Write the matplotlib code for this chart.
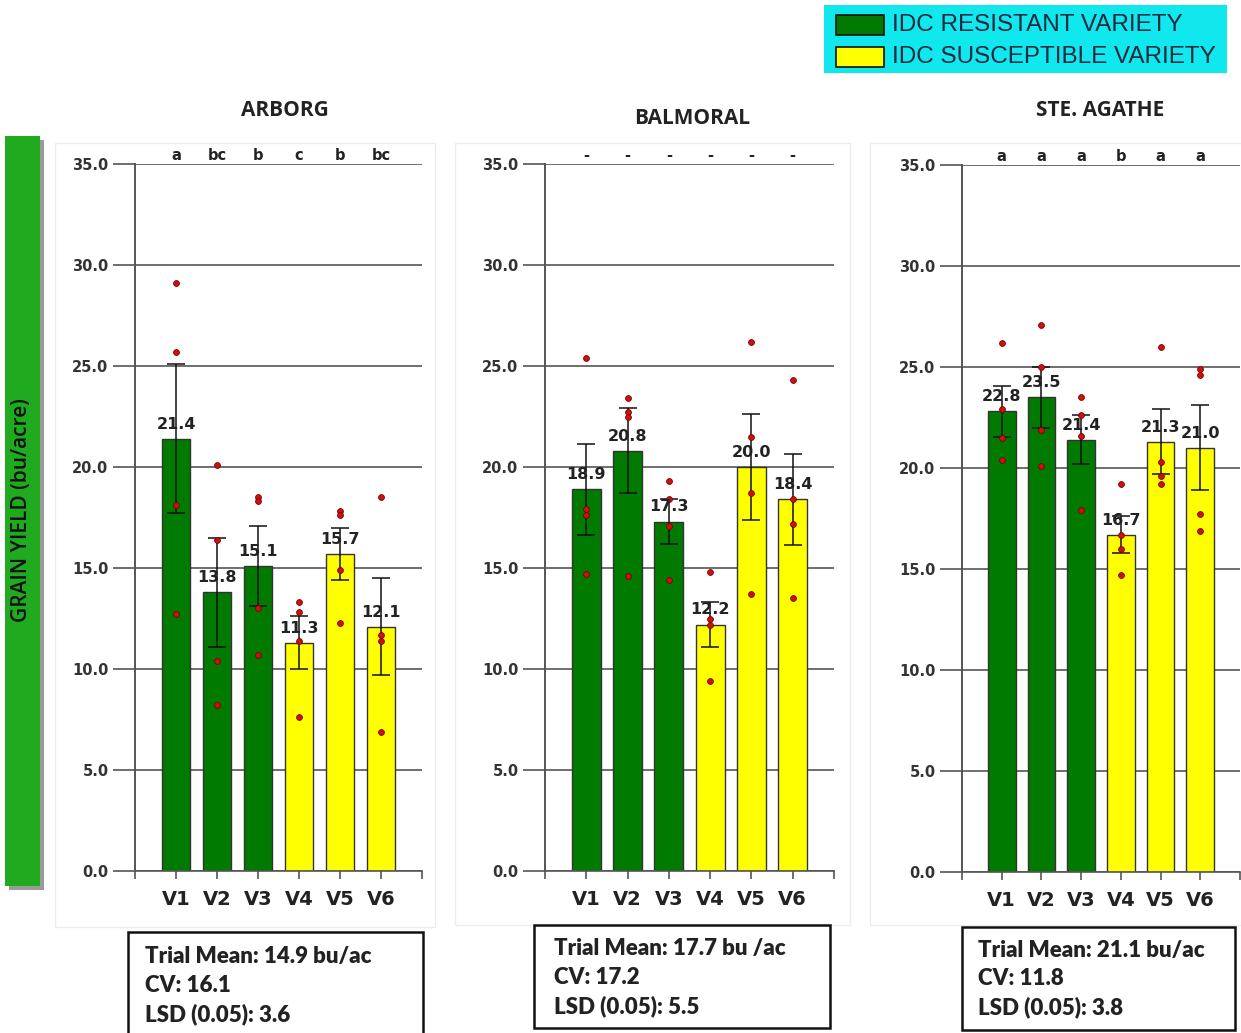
import numpy as np
import matplotlib
matplotlib.use("Agg")
import matplotlib.pyplot as plt
from matplotlib.patches import Rectangle

plt.rcParams["font.family"] = ["DejaVu Sans"]

W, H = 1241, 1033

# data
varieties = ["V1", "V2", "V3", "V4", "V5", "V6"]
resistant = [True, True, True, False, False, False]

arborg_mean = [21.4, 13.8, 15.1, 11.3, 15.7, 12.1]
arborg_err = [3.7, 2.7, 2.0, 1.3, 1.3, 2.4]
arborg_reps = [[29.1, 25.7, 18.1, 12.7], [20.1, 16.4, 10.4, 8.2],
               [18.5, 18.3, 13.0, 10.7], [13.3, 12.8, 11.4, 7.6],
               [17.8, 17.6, 14.9, 12.3], [18.5, 11.7, 11.4, 6.9]]
arborg_letters = ["a", "bc", "b", "c", "b", "bc"]

balmoral_mean = [18.9, 20.8, 17.3, 12.2, 20.0, 18.4]
balmoral_err = [2.25, 2.1, 1.1, 1.1, 2.6, 2.25]
balmoral_reps = [[25.4, 17.9, 17.6, 14.7], [23.4, 22.7, 22.5, 14.6],
                 [19.3, 18.4, 17.1, 14.4], [14.8, 12.5, 12.2, 9.4],
                 [26.2, 21.5, 18.7, 13.7], [24.3, 18.4, 17.2, 13.5]]
balmoral_letters = ["-", "-", "-", "-", "-", "-"]

agathe_mean = [22.8, 23.5, 21.4, 16.7, 21.3, 21.0]
agathe_err = [1.25, 1.5, 1.2, 0.9, 1.6, 2.1]
agathe_reps = [[26.2, 22.9, 21.5, 20.4], [27.1, 25.0, 21.9, 20.1],
               [23.5, 22.6, 21.6, 17.9], [19.2, 16.7, 16.0, 14.7],
               [26.0, 20.3, 19.6, 19.2], [24.9, 24.6, 17.7, 16.9]]
agathe_letters = ["a", "a", "a", "b", "a", "a"]

arborg_stats = ["Trial Mean: 14.9 bu/ac", "CV: 16.1", "LSD (0.05): 3.6"]
balmoral_stats = ["Trial Mean: 17.7 bu /ac", "CV: 17.2", "LSD (0.05): 5.5"]
agathe_stats = ["Trial Mean: 21.1 bu/ac", "CV: 11.8", "LSD (0.05): 3.8"]

GREEN = "#007a00"
YELLOW = "#ffff00"


def fx(x):
    return x / W


def fy(y):
    return 1 - y / H


def rect_px(x0, y0, x1, y1, **kw):
    # rectangle given in pixel coords (top-left origin)
    return Rectangle((fx(x0), fy(y1)), fx(x1) - fx(x0), fy(y0) - fy(y1),
                     transform=fig.transFigure, **kw)


fig = plt.figure(figsize=(W / 100, H / 100), dpi=100)


def draw_panel(box, frame, title, title_xy, means, errs, reps, letters, stats, stats_box, stats_xy):
    # faint panel frame
    fig.patches.append(rect_px(*frame, facecolor="none", edgecolor="#ececec", lw=1.0, zorder=0))
    x0, y0, x1, y1 = box
    ax = fig.add_axes([fx(x0), fy(y1), fx(x1) - fx(x0), fy(y0) - fy(y1)])
    x = np.arange(1, len(varieties) + 1)
    colors = [GREEN if r else YELLOW for r in resistant]
    ax.bar(x, means, width=0.7, color=colors, edgecolor="#333333", lw=1.0, zorder=2)
    ax.errorbar(x, means, yerr=errs, fmt="none", ecolor="#111111", elinewidth=1.1,
                capsize=6.5, capthick=1.1, zorder=3)
    for xi, r in zip(x, reps):
        ax.plot([xi] * len(r), r, "o", ms=4.2, mfc="#cc1111", mec="#7a0000", mew=0.6,
                zorder=4, clip_on=False)
    for xi, m in zip(x, means):
        ax.text(xi, m + 0.35, f"{m:.1f}", ha="center", va="bottom", fontsize=11.5,
                fontweight="bold", color="#222222", zorder=5)
    for xi, lt in zip(x, letters):
        ax.text(xi, 35.05, lt, ha="center", va="bottom", fontsize=10.5,
                fontweight="bold", color="#222222")
    ax.set_xlim(0, 7)
    ax.set_ylim(0, 35)
    ax.set_yticks(np.arange(0, 35.1, 5))
    ax.set_yticklabels([f"{v:.1f}" for v in np.arange(0, 35.1, 5)])
    ax.set_xticks(np.arange(0, 8))
    ax.set_xticklabels([""] + varieties + [""])
    ax.yaxis.grid(True, color="#555555", lw=1.2, zorder=1)
    ax.set_axisbelow(True)
    ax.tick_params(axis="y", length=16, width=1.2, color="#555555", pad=3,
                   labelsize=10.5, labelcolor="#333333")
    ax.tick_params(axis="x", length=6, width=1.2, color="#555555", pad=8,
                   labelsize=14, labelcolor="#222222")
    for lab in ax.get_xticklabels() + ax.get_yticklabels():
        lab.set_fontweight("bold")
    for s in ["top", "right"]:
        ax.spines[s].set_visible(False)
    ax.spines["left"].set_color("#555555")
    ax.spines["left"].set_linewidth(1.4)
    ax.spines["bottom"].set_color("#555555")
    ax.spines["bottom"].set_linewidth(1.2)

    fig.text(fx(title_xy[0]), fy(title_xy[1]), title, ha="center", va="center",
             fontsize=15, fontweight="bold", family="Open Sans", color="#222222")

    fig.patches.append(rect_px(*stats_box, facecolor="white", edgecolor="#111111", lw=1.8, zorder=1))
    sx, sy = stats_xy
    for i, line in enumerate(stats):
        fig.text(fx(sx), fy(sy + i * 28.5), line, ha="left", va="center", fontsize=16,
                 fontweight="heavy", family="Lato", color="#222222")
    return ax


draw_panel((135, 164, 422, 871), (55, 143, 435, 927), "ARBORG", (285, 110),
           arborg_mean, arborg_err, arborg_reps, arborg_letters,
           arborg_stats, (128, 932, 423, 1040), (145, 957))
draw_panel((545, 164, 834, 871), (455, 143, 850, 925), "BALMORAL", (692, 119),
           balmoral_mean, balmoral_err, balmoral_reps, balmoral_letters,
           balmoral_stats, (534, 925, 830, 1028), (554, 949))
draw_panel((962, 165, 1240, 872), (870, 143, 1245, 925), "STE. AGATHE", (1100, 110),
           agathe_mean, agathe_err, agathe_reps, agathe_letters,
           agathe_stats, (962, 927, 1235, 1030), (978, 950))

# left axis label band
fig.patches.append(rect_px(9, 140, 44, 890, facecolor="#9a9a9a", edgecolor="none", zorder=0))
fig.patches.append(rect_px(5, 136, 40, 886, facecolor="#1faa1f", edgecolor="none", zorder=1))
fig.text(fx(22), fy(510), "GRAIN YIELD (bu/acre)", rotation=90, ha="center", va="center",
         fontsize=15, fontweight="semibold", family="Open Sans", color="#111111", zorder=2)

# legend
fig.patches.append(rect_px(824, 5, 1227, 73, facecolor="#10e8ee", edgecolor="none", zorder=0))
fig.patches.append(rect_px(836, 15, 884, 35, facecolor=GREEN, edgecolor="#111111", lw=1.2, zorder=1))
fig.patches.append(rect_px(836, 47, 884, 67, facecolor=YELLOW, edgecolor="#111111", lw=1.2, zorder=1))
fig.text(fx(892), fy(25), "IDC RESISTANT VARIETY", ha="left", va="center", fontsize=17.5,
         family="Liberation Sans", color="#1a2840")
fig.text(fx(892), fy(57), "IDC SUSCEPTIBLE VARIETY", ha="left", va="center", fontsize=17.5,
         family="Liberation Sans", color="#1a2840")

fig.savefig("out.png", dpi=100)
